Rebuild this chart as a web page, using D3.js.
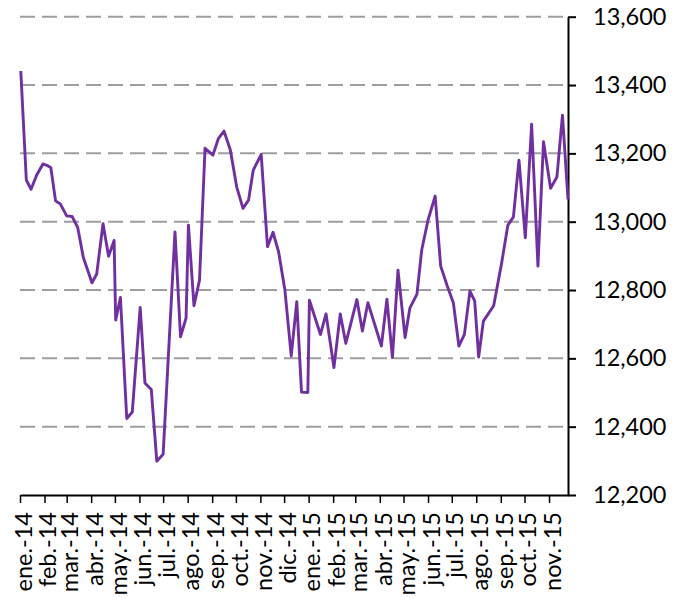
<!DOCTYPE html>
<html>
<head>
<meta charset="utf-8">
<script src="https://cdn.jsdelivr.net/npm/d3@7"></script>
<style>
  body { margin: 0; background: #fff; }
  text { font-family: Lato, "Open Sans", sans-serif; fill: #000; }
</style>
</head>
<body>
<svg id="chart" width="683" height="598"></svg>
<script>
const dates = [
  "2014-01-02","2014-01-09","2014-01-15","2014-01-22","2014-01-30","2014-02-04","2014-02-09","2014-02-15","2014-02-21",
  "2014-03-01","2014-03-08","2014-03-15","2014-03-22","2014-04-02","2014-04-08","2014-04-16","2014-04-23","2014-04-30",
  "2014-05-02","2014-05-08","2014-05-16","2014-05-23","2014-06-02","2014-06-08","2014-06-16","2014-06-23","2014-07-01",
  "2014-07-16","2014-07-23","2014-07-30","2014-08-02","2014-08-09","2014-08-16","2014-08-23","2014-09-02","2014-09-09",
  "2014-09-16","2014-09-24","2014-10-02","2014-10-10","2014-10-17","2014-10-23","2014-11-02","2014-11-10","2014-11-17",
  "2014-11-24","2014-12-02","2014-12-10","2014-12-17","2014-12-23","2014-12-31","2015-01-02","2015-01-16","2015-01-23",
  "2015-02-02","2015-02-10","2015-02-17","2015-03-03","2015-03-10","2015-03-17","2015-04-03","2015-04-10","2015-04-17",
  "2015-04-24","2015-05-03","2015-05-09","2015-05-18","2015-05-24","2015-06-01","2015-06-10","2015-06-17","2015-06-25",
  "2015-07-03","2015-07-10","2015-07-17","2015-07-24","2015-07-30","2015-08-04","2015-08-10","2015-08-23","2015-09-02",
  "2015-09-10","2015-09-17","2015-09-24","2015-10-02","2015-10-10","2015-10-18","2015-10-25","2015-11-03","2015-11-11",
  "2015-11-18","2015-11-25"
];

const values = [
  13441, 13122, 13095, 13136, 13169, 13165, 13158, 13061, 13052, 13017,
  13015, 12983, 12896, 12821, 12847, 12994, 12899, 12945, 12712, 12778,
  12424, 12443, 12749, 12528, 12509, 12299, 12319, 12970, 12663, 12718,
  12990, 12754, 12829, 13215, 13195, 13244, 13265, 13210, 13102, 13039,
  13063, 13151, 13197, 12927, 12969, 12912, 12800, 12607, 12766, 12501,
  12500, 12770, 12670, 12730, 12573, 12730, 12644, 12772, 12680, 12763,
  12636, 12773, 12602, 12858, 12661, 12747, 12788, 12917, 13005, 13075,
  12870, 12814, 12763, 12636, 12670, 12797, 12768, 12604, 12709, 12754,
  12878, 12990, 13014, 13180, 12953, 13285, 12870, 13234, 13098, 13131,
  13312, 13065
];

const yTicks = [12200, 12400, 12600, 12800, 13000, 13200, 13400, 13600];
const monthNames = ["ene.", "feb.", "mar.", "abr.", "may.", "jun.", "jul.", "ago.", "sep.", "oct.", "nov.", "dic."];
const axisStart = "2014-01-01";
const axisEnd = "2015-11-25";

const svg = d3.select("#chart");
const plotLeft = 20, plotRight = 568, plotTop = 16.7, plotBottom = 495;

const parse = d3.timeParse("%Y-%m-%d");
const data = dates.map((d, i) => ({ date: parse(d), value: values[i] }));

const x = d3.scaleTime()
  .domain([parse(axisStart), parse(axisEnd)])
  .range([plotLeft, plotRight]);

const y = d3.scaleLinear()
  .domain([12200, 13600])
  .range([plotBottom, plotTop]);

// dashed gridlines
svg.append("g")
  .selectAll("line")
  .data(yTicks.filter(t => t > 12200))
  .join("line")
  .attr("x1", plotLeft)
  .attr("x2", plotRight)
  .attr("y1", d => y(d))
  .attr("y2", d => y(d))
  .attr("stroke", "#9e9e9e")
  .attr("stroke-width", 2)
  .attr("stroke-dasharray", "15,7");

// month ticks on the bottom axis
const months = d3.timeMonth.range(parse(axisStart), parse("2015-11-02"));
const xAxis = d3.axisBottom(x)
  .tickValues(months)
  .tickSize(8)
  .tickSizeOuter(0)
  .tickFormat(d => monthNames[d.getMonth()] + "-" + String(d.getFullYear()).slice(2));

const gx = svg.append("g")
  .attr("transform", `translate(0,${plotBottom})`)
  .call(xAxis);
gx.select(".domain").attr("stroke", "#000").attr("stroke-width", 2);
gx.selectAll(".tick line").attr("stroke", "#000").attr("stroke-width", 1.5);
gx.selectAll(".tick text")
  .attr("font-size", 23.5)
  .attr("text-anchor", "end")
  .attr("transform", "rotate(-90)")
  .attr("x", -17)
  .attr("y", 3)
  .attr("dy", "0.35em");

// value axis on the right
const yAxis = d3.axisRight(y)
  .tickValues(yTicks)
  .tickSize(8)
  .tickSizeOuter(0)
  .tickPadding(17)
  .tickFormat(d3.format(","));

const gy = svg.append("g")
  .attr("transform", `translate(${plotRight},0)`)
  .call(yAxis);
gy.select(".domain").attr("stroke", "#000").attr("stroke-width", 2);
gy.selectAll(".tick line").attr("stroke", "#000").attr("stroke-width", 2);
gy.selectAll(".tick text").attr("font-size", 23.5);

// the series
const line = d3.line()
  .x(d => x(d.date))
  .y(d => y(d.value));

svg.append("path")
  .datum(data)
  .attr("fill", "none")
  .attr("stroke", "#7030a0")
  .attr("stroke-width", 2.9)
  .attr("stroke-linejoin", "round")
  .attr("d", line);
</script>
</body>
</html>
